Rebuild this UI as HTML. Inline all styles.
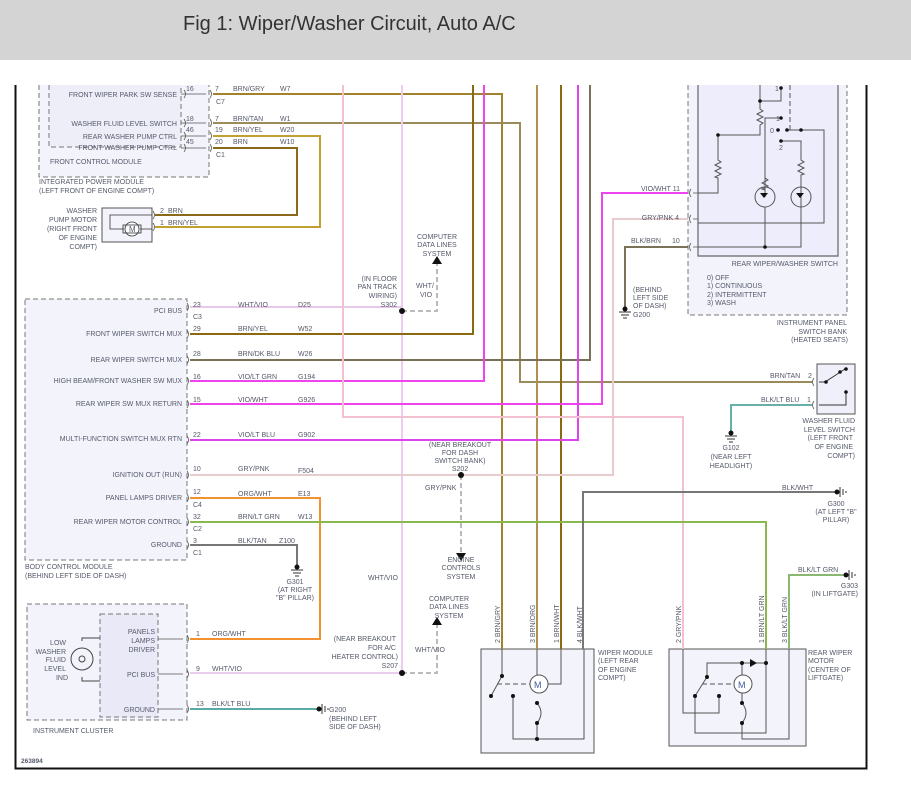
<!DOCTYPE html>
<html><head><meta charset="utf-8"><style>
html,body{margin:0;padding:0;background:#fff;}
svg{display:block;font-family:"Liberation Sans",sans-serif;}
text{font-size:7px;fill:#555a6a;}
.t{font-size:20px;fill:#333;}
.r{text-anchor:end;}
.m{text-anchor:middle;}
</style></head><body>
<svg width="911" height="796" viewBox="0 0 911 796" xmlns="http://www.w3.org/2000/svg">
<rect x="0" y="0" width="911" height="60" fill="#d4d4d4"/>
<text class="t" x="183" y="30">Fig 1: Wiper/Washer Circuit, Auto A/C</text>
<!-- frame -->
<path d="M15.5 85V768.5H866.5V85" fill="none" stroke="#111" stroke-width="2"/>

<!-- boxes -->
<g fill="#f3f3fb" stroke="#777" stroke-dasharray="5,3" stroke-width="1">
<path d="M39 85V177H209V85"/>
<path d="M49 85V147H181V85" fill="#eeeef9"/>
<rect x="25" y="299" width="162" height="261"/>
<rect x="27" y="604" width="160" height="116"/>
<rect x="100" y="614" width="58" height="103" fill="#e9e9f8"/>
<path d="M688 85V315H847V85"/>
</g>
<path d="M698 85V256H838V85" fill="#ededfb" stroke="#666" stroke-width="1.2"/>
<rect x="102" y="208" width="50" height="34" fill="#f3f3fb" stroke="#555"/>
<rect x="817" y="364" width="38" height="50" fill="#f0f0fa" stroke="#555"/>
<rect x="481" y="649" width="113" height="104" fill="#f3f3fb" stroke="#555"/>
<rect x="669" y="649" width="137" height="97" fill="#f3f3fb" stroke="#555"/>

<!-- wires -->
<g fill="none" stroke-width="2">
<path d="M213 94H502V649" stroke="#a3822c"/>
<path d="M213 123H520V382H812" stroke="#9b8a5a"/>
<path d="M213 136H320V227H155" stroke="#c0a030"/>
<path d="M213 148H297V215H155" stroke="#8a6a1a"/>
<path d="M537 85V649" stroke="#b09050"/>
<path d="M561 85V649" stroke="#8a6a10"/>
<path d="M190 307H402" stroke="#e8c8e8"/>
<path d="M402 85V673H190" stroke="#ebcdee"/>
<path d="M190 334H473V85" stroke="#8a6a10"/>
<path d="M190 360H590V85" stroke="#7a7258"/>
<path d="M190 381H484V85" stroke="#ee44ee"/>
<path d="M190 404H602V193H688" stroke="#ee44ee"/>
<path d="M190 440H578V85" stroke="#dd44ee"/>
<path d="M190 475H613V219H688" stroke="#e6cccc"/>
<path d="M343 85V417H683V649" stroke="#f3c0d0"/>
<path d="M190 498H320V639H190" stroke="#f39030"/>
<path d="M190 522H766V649" stroke="#8ab850"/>
<path d="M190 545H297V566" stroke="#777"/>
<path d="M836 492H583V649" stroke="#777"/>
<path d="M845 575H789V649" stroke="#8ab870"/>
<path d="M688 247H625V308" stroke="#7a7258"/>
<path d="M812 405H731V432" stroke="#66b0a8"/>
<path d="M190 709H318" stroke="#5aaaa8"/>
</g>
<g fill="none" stroke="#bbb" stroke-width="2" stroke-dasharray="5,3">
<path d="M402 311H437V264"/>
<path d="M461 475V552"/>
<path d="M402 673H437V625"/>
</g>
<g fill="#111">
<circle cx="402" cy="311" r="3"/><circle cx="461" cy="475" r="3"/><circle cx="402" cy="673" r="3"/>
<path d="M432 264h10l-5-8z"/><path d="M456 553h10l-5 8z"/><path d="M432 625h10l-5-8z"/>
</g>
<!-- grounds -->
<g stroke="#333" fill="none" stroke-width="1">
<path d="M291 570h12M293 573h8M295 576h4"/><path d="M619 312h12M621 315h8M623 318h4"/>
<path d="M725 436h12M727 439h8M729 442h4"/>
<path d="M840 487v10M843 489v6M846 491v2"/><path d="M849 570v10M852 572v6M855 574v2"/>
<path d="M322 704v10M325 706v6M328 708v2"/>
</g>
<g fill="#111"><circle cx="297" cy="567" r="2.5"/><circle cx="625" cy="309" r="2.5"/><circle cx="731" cy="433" r="2.5"/><circle cx="837" cy="492" r="2.5"/><circle cx="846" cy="575" r="2.5"/><circle cx="319" cy="709" r="2.5"/></g>

<!-- connector marks -->
<g stroke="#555" fill="none" stroke-width="0.8">
<path d="M181 94h25M181 123h25M181 136h25M181 148h25"/>
<path d="M184 90q3 4 0 8M184 119q3 4 0 8M184 132q3 4 0 8M184 144q3 4 0 8M210 90q3 4 0 8M210 119q3 4 0 8M210 132q3 4 0 8M210 144q3 4 0 8"/>
<path d="M187 303q3 4 0 8M187 330q3 4 0 8M187 356q3 4 0 8M187 377q3 4 0 8M187 400q3 4 0 8M187 436q3 4 0 8M187 471q3 4 0 8M187 494q3 4 0 8M187 518q3 4 0 8M187 541q3 4 0 8"/>
<path d="M158 639h25M158 674h25M158 709h25M187 635q3 4 0 8M187 670q3 4 0 8M187 705q3 4 0 8"/>
<path d="M693 193h5M693 219h5M693 247h5M691 189q-3 4 0 8M691 215q-3 4 0 8M691 243q-3 4 0 8"/>
<path d="M814 378q-3 4 0 8M814 401q-3 4 0 8"/>
<path d="M153 211q3 4 0 8M153 223q3 4 0 8"/>
</g>
<!-- pump motor -->
<g stroke="#333" fill="none" stroke-width="0.8"><path d="M152 215H110V229H124M140 229H152"/><circle cx="132" cy="229" r="7" fill="#fff"/><rect x="123" y="225" width="18" height="8"/></g>
<text x="129" y="232" style="font-size:8px">M</text>

<!-- switch bank internals -->
<g stroke="#555" fill="none" stroke-width="1">
<path d="M718 135V160l3 2-6 3 6 3-6 3 6 3-6 3 3 1V193H698"/>
<path d="M718 135H760V125l3-2-6-3 6-3-6-3 6-3-3-2V85"/>
<path d="M760 101H781V88"/>
<path d="M765 197V118H781"/>
<path d="M787 130H824V223H698"/>
<path d="M781 141H801V160l3 2-6 3 6 3-6 3 6 3-3 1V247H698"/>
<path d="M765 207V247"/>
<path d="M765 178l3 2-6 3 6 3-6 3 3 1"/>
<circle cx="765" cy="197" r="10"/><circle cx="801" cy="197" r="10"/>
<path d="M790 85V130" stroke-dasharray="5,3"/>
</g>
<g fill="#111"><circle cx="718" cy="135" r="1.8"/><circle cx="760" cy="101" r="1.8"/><circle cx="781" cy="88" r="1.8"/><circle cx="781" cy="118" r="1.8"/><circle cx="778" cy="130" r="1.8"/><circle cx="787" cy="130" r="1.8"/><circle cx="781" cy="141" r="1.8"/><circle cx="765" cy="247" r="1.8"/><circle cx="801" cy="130" r="1.8"/>
<path d="M760 193h8l-4 5z"/><path d="M796 193h8l-4 5z"/></g>
<text x="775" y="91">1</text><text x="776" y="121">1</text><text x="770" y="133">0</text><text x="779" y="150">2</text>

<!-- washer fluid switch -->
<g stroke="#333" fill="none"><path d="M819 382h6l20-13"/><path d="M819 405h27V393"/></g>
<g fill="#111"><circle cx="826" cy="382" r="1.8"/><circle cx="840" cy="372" r="1.8"/><circle cx="846" cy="369" r="1.8"/><circle cx="846" cy="392" r="1.8"/></g>

<!-- wiper module -->
<g stroke="#555" fill="none" stroke-width="1">
<path d="M502 649V676L491 696"/><path d="M497 684H530" stroke-dasharray="5,3"/>
<path d="M561 649V684H548"/><path d="M537 649V693M537 703q8 10 0 20V739M513 696V739H584V649"/>
<circle cx="539" cy="684" r="9" fill="#fff"/>
<path d="M683 649V713H719V696"/><path d="M707 677L695 696M707 677V663H766M695 696V733H766V649"/>
<path d="M702 684H734" stroke-dasharray="5,3"/>
<path d="M742 675V663M742 693V703q8 10 0 20V739H789V649"/>
<circle cx="743" cy="684" r="9" fill="#fff"/>
</g>
<g fill="#111"><circle cx="502" cy="676" r="2"/><circle cx="491" cy="696" r="2"/><circle cx="513" cy="696" r="2"/><circle cx="537" cy="703" r="2"/><circle cx="537" cy="723" r="2"/><circle cx="537" cy="739" r="2"/>
<circle cx="707" cy="677" r="2"/><circle cx="695" cy="696" r="2"/><circle cx="719" cy="696" r="2"/><circle cx="742" cy="663" r="2"/><circle cx="766" cy="663" r="2"/><circle cx="742" cy="703" r="2"/><circle cx="742" cy="723" r="2"/>
<path d="M750 659v8l7-4z"/></g>
<text x="534" y="688" style="font-size:9px;fill:#3a5a9a">M</text><text x="738" y="688" style="font-size:9px;fill:#3a5a9a">M</text>

<!-- text labels -->
<text class="r" x="177" y="97">FRONT WIPER PARK SW SENSE</text>
<text class="r" x="177" y="126">WASHER FLUID LEVEL SWITCH</text>
<text class="r" x="177" y="139">REAR WASHER PUMP CTRL</text>
<text class="r" x="177" y="150">FRONT WASHER PUMP CTRL</text>
<text x="50" y="164">FRONT CONTROL MODULE</text>
<text x="39" y="184">INTEGRATED POWER MODULE</text>
<text x="39" y="193">(LEFT FRONT OF ENGINE COMPT)</text>
<text x="186" y="91">16</text><text x="215" y="91">7</text><text x="233" y="91">BRN/GRY</text><text x="280" y="91">W7</text><text x="216" y="104">C7</text>
<text x="186" y="121">18</text><text x="215" y="121">7</text><text x="233" y="121">BRN/TAN</text><text x="280" y="121">W1</text>
<text x="186" y="132">46</text><text x="215" y="132">19</text><text x="233" y="132">BRN/YEL</text><text x="280" y="132">W20</text>
<text x="186" y="144">45</text><text x="215" y="144">20</text><text x="233" y="144">BRN</text><text x="280" y="144">W10</text><text x="216" y="157">C1</text>
<text class="r" x="97" y="213">WASHER</text><text class="r" x="97" y="222">PUMP MOTOR</text><text class="r" x="97" y="231">(RIGHT FRONT</text><text class="r" x="97" y="240">OF ENGINE</text><text class="r" x="97" y="249">COMPT)</text>
<text x="160" y="213">2</text><text x="168" y="213">BRN</text><text x="160" y="225">1</text><text x="168" y="225">BRN/YEL</text>
<text class="m" x="437" y="239">COMPUTER</text><text class="m" x="437" y="247">DATA LINES</text><text class="m" x="437" y="256">SYSTEM</text>
<text class="r" x="397" y="281">(IN FLOOR</text><text class="r" x="397" y="289">PAN TRACK</text><text class="r" x="397" y="298">WIRING)</text><text class="r" x="397" y="307">S302</text>
<text x="416" y="288">WHT/</text><text x="420" y="297">VIO</text>
<text class="r" x="182" y="313">PCI BUS</text><text class="r" x="182" y="336">FRONT WIPER SWITCH MUX</text><text class="r" x="182" y="362">REAR WIPER SWITCH MUX</text><text class="r" x="182" y="383">HIGH BEAM/FRONT WASHER SW MUX</text><text class="r" x="182" y="406">REAR WIPER SW MUX RETURN</text><text class="r" x="182" y="441">MULTI-FUNCTION SWITCH MUX RTN</text><text class="r" x="182" y="477">IGNITION OUT (RUN)</text><text class="r" x="182" y="500">PANEL LAMPS DRIVER</text><text class="r" x="182" y="524">REAR WIPER MOTOR CONTROL</text><text class="r" x="182" y="547">GROUND</text>
<text x="25" y="569">BODY CONTROL MODULE</text><text x="25" y="578">(BEHIND LEFT SIDE OF DASH)</text>
<text x="193" y="307">23</text><text x="193" y="319">C3</text><text x="238" y="307">WHT/VIO</text><text x="298" y="307">D25</text>
<text x="193" y="331">29</text><text x="238" y="331">BRN/YEL</text><text x="298" y="331">W52</text>
<text x="193" y="356">28</text><text x="238" y="356">BRN/DK BLU</text><text x="298" y="356">W26</text>
<text x="193" y="379">16</text><text x="238" y="379">VIO/LT GRN</text><text x="298" y="379">G194</text>
<text x="193" y="402">15</text><text x="238" y="402">VIO/WHT</text><text x="298" y="402">G926</text>
<text x="193" y="437">22</text><text x="238" y="437">VIO/LT BLU</text><text x="298" y="437">G902</text>
<text x="193" y="471">10</text><text x="238" y="471">GRY/PNK</text><text x="298" y="473">F504</text>
<text x="193" y="494">12</text><text x="193" y="507">C4</text><text x="238" y="496">ORG/WHT</text><text x="298" y="496">E13</text>
<text x="193" y="519">32</text><text x="193" y="531">C2</text><text x="238" y="519">BRN/LT GRN</text><text x="298" y="519">W13</text>
<text x="193" y="543">3</text><text x="193" y="555">C1</text><text x="238" y="543">BLK/TAN</text><text x="279" y="543">Z100</text>
<text class="m" x="295" y="584">G301</text><text class="m" x="295" y="592">(AT RIGHT</text><text class="m" x="295" y="600">"B" PILLAR)</text>
<text class="m" x="460" y="447">(NEAR BREAKOUT</text><text class="m" x="460" y="455">FOR DASH</text><text class="m" x="460" y="463">SWITCH BANK)</text><text class="m" x="460" y="471">S202</text>
<text x="425" y="490">GRY/PNK</text>
<text class="m" x="461" y="562">ENGINE</text><text class="m" x="461" y="570">CONTROLS</text><text class="m" x="461" y="579">SYSTEM</text>
<text x="368" y="580">WHT/VIO</text>
<text class="m" x="449" y="601">COMPUTER</text><text class="m" x="449" y="609">DATA LINES</text><text class="m" x="449" y="618">SYSTEM</text>
<text class="r" x="396" y="641">(NEAR BREAKOUT</text><text class="r" x="396" y="650">FOR A/C</text><text class="r" x="398" y="659">HEATER CONTROL)</text><text class="r" x="398" y="668">S207</text>
<text x="415" y="652">WHT/VIO</text>
<text class="r" x="155" y="634">PANELS</text><text class="r" x="155" y="643">LAMPS</text><text class="r" x="155" y="652">DRIVER</text><text class="r" x="155" y="677">PCI BUS</text><text class="r" x="155" y="712">GROUND</text>
<text class="r" x="66" y="645">LOW</text><text class="r" x="66" y="654">WASHER</text><text class="r" x="66" y="662">FLUID</text><text class="r" x="66" y="671">LEVEL</text><text class="r" x="68" y="680">IND</text>
<g stroke="#444" fill="none"><circle cx="82" cy="659" r="11"/><circle cx="82" cy="659" r="3"/><path d="M82 641V638H100M82 677V681H100"/></g>
<text x="33" y="733">INSTRUMENT CLUSTER</text>
<text x="196" y="636">1</text><text x="212" y="636">ORG/WHT</text>
<text x="196" y="671">9</text><text x="212" y="671">WHT/VIO</text>
<text x="196" y="706">13</text><text x="212" y="706">BLK/LT BLU</text>
<text x="329" y="712">G200</text><text x="329" y="721">(BEHIND LEFT</text><text x="329" y="729">SIDE OF DASH)</text>
<text x="21" y="763" style="font-weight:bold;font-size:6.5px">263894</text>
<text class="r" x="680" y="191">VIO/WHT 11</text><text class="r" x="679" y="220">GRY/PNK  4</text><text x="631" y="243">BLK/BRN</text><text x="672" y="243">10</text>
<text x="633" y="292">(BEHIND</text><text x="633" y="300">LEFT SIDE</text><text x="633" y="308">OF DASH)</text><text x="633" y="317">G200</text>
<text class="r" x="838" y="266">REAR WIPER/WASHER SWITCH</text>
<text x="707" y="280">0) OFF</text><text x="707" y="288">1) CONTINUOUS</text><text x="707" y="297">2) INTERMITTENT</text><text x="707" y="305">3) WASH</text>
<text class="r" x="847" y="325">INSTRUMENT PANEL</text><text class="r" x="847" y="334">SWITCH BANK</text><text class="r" x="848" y="342">(HEATED SEATS)</text>
<text x="770" y="378">BRN/TAN</text><text x="808" y="378">2</text><text x="761" y="402">BLK/LT BLU</text><text x="807" y="402">1</text>
<text class="r" x="855" y="423">WASHER FLUID</text><text class="r" x="855" y="432">LEVEL SWITCH</text><text class="r" x="853" y="440">(LEFT FRONT</text><text class="r" x="853" y="449">OF ENGINE</text><text class="r" x="855" y="458">COMPT)</text>
<text class="m" x="731" y="450">G102</text><text class="m" x="731" y="459">(NEAR LEFT</text><text class="m" x="731" y="468">HEADLIGHT)</text>
<text x="782" y="490">BLK/WHT</text><text class="m" x="836" y="506">G300</text><text class="m" x="836" y="514">(AT LEFT "B"</text><text class="m" x="836" y="522">PILLAR)</text>
<text x="798" y="572">BLK/LT GRN</text><text class="r" x="858" y="588">G303</text><text class="r" x="858" y="596">(IN LIFTGATE)</text>
<g>
<text transform="translate(500,643) rotate(-90)">2  BRN/GRY</text>
<text transform="translate(535,643) rotate(-90)">3  BRN/ORG</text>
<text transform="translate(559,643) rotate(-90)">1  BRN/WHT</text>
<text transform="translate(582,643) rotate(-90)">4  BLK/WHT</text>
<text transform="translate(681,643) rotate(-90)">2  GRY/PNK</text>
<text transform="translate(764,643) rotate(-90)">1  BRN/LT GRN</text>
<text transform="translate(787,643) rotate(-90)">3  BLK/LT GRN</text>
</g>
<text x="598" y="655">WIPER MODULE</text><text x="598" y="663">(LEFT REAR</text><text x="598" y="672">OF ENGINE</text><text x="598" y="680">COMPT)</text>
<text x="808" y="655">REAR WIPER</text><text x="808" y="663">MOTOR</text><text x="808" y="672">(CENTER OF</text><text x="808" y="680">LIFTGATE)</text>
</svg>
</body></html>
